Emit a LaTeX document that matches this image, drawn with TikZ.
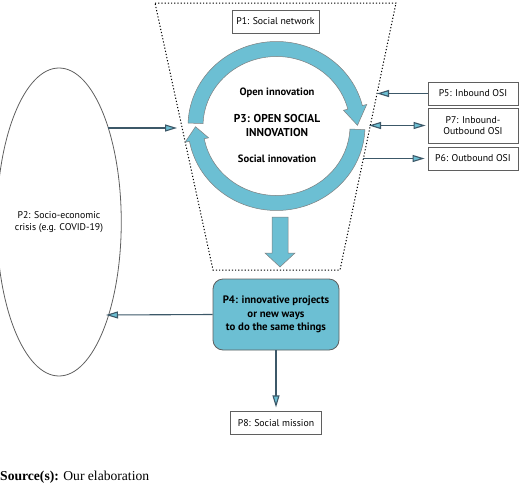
\documentclass[tikz,border=0pt]{standalone}
\usepackage{fontspec}
\setmainfont{Liberation Serif}
\newfontfamily\diagfont{PT Sans}
\usetikzlibrary{positioning,shapes.geometric,arrows.meta,calc}

\definecolor{osiblue}{RGB}{108,191,211}
\definecolor{osiline}{RGB}{60,88,104}
\definecolor{osigrey}{RGB}{95,95,95}

\tikzset{
  box/.style={draw=osigrey, line width=0.8pt, fill=white, font=\diagfont\fontsize{9.8}{11.7}\selectfont,
    inner sep=0pt, align=center},
  tip/.style={Triangle[length=12pt,width=7pt,fill=osiblue]},
  signal/.style={draw=osiline, line width=1.1pt, -{Triangle[length=12pt,width=7pt,fill=osiblue]}},
  ring/.style={fill=osiblue, draw=osigrey!80, line width=0.5pt},
  plain/.style={font=\diagfont\bfseries\fontsize{10.6}{12}\selectfont, align=center, inner sep=0pt},
}

\begin{document}
\begin{tikzpicture}[x=1pt, y=-1pt]
  \useasboundingbox (0,0) rectangle (520,485);
  % dotted funnel round the open social innovation
  \draw[line width=1pt, dash pattern=on 1.2pt off 2pt]
    (155,3) -- (396,3) -- (340,270) -- (213,270) -- cycle;

  % socio-economic crisis
  \node[draw=osigrey, line width=0.8pt, ellipse, minimum width=116pt, minimum height=308pt,
    font=\diagfont\fontsize{9.8}{12}\selectfont, align=center, inner sep=0pt] (p2) at (59,222)
    {P2: Socio-economic\\crisis (e.g. COVID-19)};

  \node[box, minimum width=87pt, minimum height=23pt] (p1) at (275.5,21.5) {P1: Social network};

  % the two arrows of the ring
  \coordinate (C) at (276.5,126);
  \filldraw[ring] ($(C)+(182:88.5 and 84.5)$) arc[start angle=182, end angle=346, x radius=88.5, y radius=84.5]
    -- ($(C)+(346:93 and 89)$) -- ($(C)+(359.5:81 and 77)$) -- ($(C)+(346:69 and 65)$)
    -- ($(C)+(346:73.5 and 69.5)$) arc[start angle=346, end angle=182, x radius=73.5, y radius=69.5] -- cycle;
  \filldraw[ring] ($(C)+(2.5:88.5 and 84.5)$) arc[start angle=2.5, end angle=169.5, x radius=88.5, y radius=84.5]
    -- ($(C)+(169.5:93 and 89)$) -- ($(C)+(179.5:81 and 77)$) -- ($(C)+(169.5:69 and 65)$)
    -- ($(C)+(169.5:73.5 and 69.5)$) arc[start angle=169.5, end angle=2.5, x radius=73.5, y radius=69.5] -- cycle;

  \node[plain] (oi) at (277,93) {Open innovation};
  \node[plain, font=\diagfont\bfseries\fontsize{11.4}{14}\selectfont] (p3) at (277,126) {P3: OPEN SOCIAL\\INNOVATION};
  \node[plain] (si) at (277,159) {Social innovation};

  % fat arrow down to the projects
  \filldraw[ring] (272,217) -- (288,217) -- (288,253) -- (295,253) -- (280,267) -- (265,253) -- (272,253) -- cycle;

  \node[box, fill=osiblue, rounded corners=10pt, minimum width=126pt, minimum height=71pt,
    font=\diagfont\bfseries\fontsize{10.8}{13.5}\selectfont] (p4) at (276,314.5)
    {P4: innovative projects\\or new ways\\to do the same things};
  \node[box, minimum width=91pt, minimum height=23pt, below=61pt of p4] (p8) {P8: Social mission};

  \node[box, minimum width=90pt, minimum height=23pt] (p5) at (473,93.5) {P5: Inbound OSI};
  \node[box, minimum width=90pt, minimum height=35pt] (p7) at (473,125.5) {P7: Inbound-\\Outbound OSI};
  \node[box, minimum width=90pt, minimum height=23pt] (p6) at (473,158.5) {P6: Outbound OSI};

  \coordinate (e5) at (377,93.5);
  \coordinate (e7) at (369,125.5);
  \coordinate (e6) at (363,158.5);
  \coordinate (e2) at (177,128);
  \coordinate (e4) at (106,315);

  \draw[signal] (p5.west) -- (e5);
  \draw[signal, {Triangle[length=12pt,width=7pt,fill=osiblue]}-{Triangle[length=12pt,width=7pt,fill=osiblue]}] (e7) -- ([xshift=-2pt]p7.west);
  \draw[signal] (e6) -- ([xshift=-3pt]p6.west);
  \draw[signal] (p2.63 |- e2) -- (e2);
  \draw[signal] (p4.west) -- (e4);
  \draw[signal] (p4.south) -- ([yshift=4pt]p8.north);

  \node[anchor=base west, inner sep=0pt, font=\fontsize{13.6}{15}\selectfont] (src) at (0,480)
    {\textbf{Source(s):} Our elaboration};
\end{tikzpicture}
\end{document}
